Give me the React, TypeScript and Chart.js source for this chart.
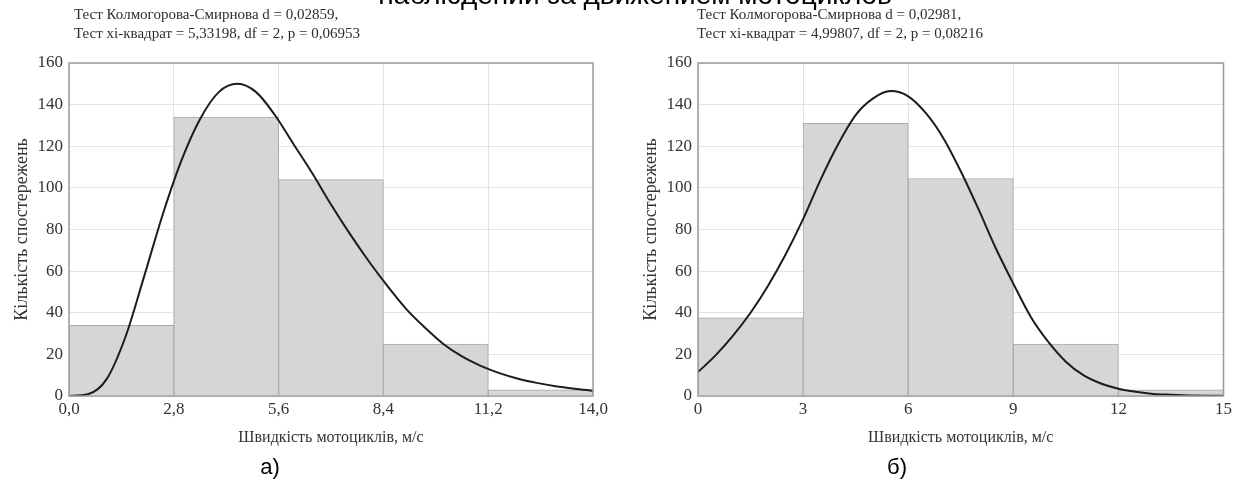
import React, { useEffect, useRef } from 'react';
import { Chart, registerables } from 'chart.js';

Chart.register(...registerables);

// ---------- shared text ----------
const PAGE_TITLE = 'наблюдений за движением мотоциклов';
const Y_TITLE = 'Кількість спостережень';
const X_TITLE = 'Швидкість мотоциклів, м/с';
const Y_MAX = 160;
const Y_STEP = 20;

// ---------- chart а) ----------
const edgesA = [0, 2.8, 5.6, 8.4, 11.2, 14.0];
const tickLabelsA = ['0,0', '2,8', '5,6', '8,4', '11,2', '14,0'];
const countsA = [34, 134, 104, 25, 3];
const curveXA = [0, 0.5, 1, 1.5, 2, 2.5, 3, 3.5, 4, 4.5, 5, 5.5, 6, 6.5, 7, 7.5, 8, 8.5, 9, 9.5, 10, 10.5, 11, 11.5, 12, 12.5, 13, 13.5, 14];
const curveYA = [0, 0.8, 8, 28, 57, 87, 113, 133, 146, 150, 146, 135, 121, 107, 92, 78, 65, 53, 42, 33, 25, 19, 14.5, 11, 8.3, 6.3, 4.7, 3.5, 2.5];
const statsA = ['Тест Колмогорова-Смирнова d = 0,02859,', 'Тест хі-квадрат = 5,33198, df = 2, p = 0,06953'];
const captionA = 'а)';

// ---------- chart б) ----------
const edgesB = [0, 3, 6, 9, 12, 15];
const tickLabelsB = ['0', '3', '6', '9', '12', '15'];
const countsB = [37.5, 131, 104.5, 25, 3];
const curveXB = [0, 0.5, 1, 1.5, 2, 2.5, 3, 3.5, 4, 4.5, 5, 5.5, 6, 6.5, 7, 7.5, 8, 8.5, 9, 9.5, 10, 10.5, 11, 11.5, 12, 12.5, 13, 13.5, 14, 14.5, 15];
const curveYB = [11.5, 19.5, 29, 40, 53, 68, 85, 104, 121, 135, 143, 146.5, 144, 136, 124, 108, 90, 71, 54, 38, 26, 16.5, 10, 6, 3.5, 2, 1, 0.6, 0.3, 0.15, 0.1];
const statsB = ['Тест Колмогорова-Смирнова d = 0,02981,', 'Тест хі-квадрат = 4,99807, df = 2, p = 0,08216'];
const captionB = 'б)';

const SERIF = '"Liberation Serif", "Times New Roman", serif';
const SANS = '"Liberation Sans", Arial, sans-serif';

const framePlugin = {
  id: 'frame',
  afterDatasetsDraw(chart: any) {
    const { ctx, chartArea } = chart;
    ctx.save();
    ctx.strokeStyle = '#9c9c9c';
    ctx.lineWidth = 1.5;
    ctx.strokeRect(chartArea.left, chartArea.top, chartArea.right - chartArea.left, chartArea.bottom - chartArea.top);
    ctx.restore();
  },
};

interface HistProps {
  edges: number[];
  tickLabels: string[];
  counts: number[];
  curveX: number[];
  curveY: number[];
  width: number;
  height: number;
  padLeft: number;
  padRight: number;
}

function Histogram(props: HistProps) {
  const ref = useRef<HTMLCanvasElement | null>(null);
  useEffect(() => {
    const { edges, tickLabels, counts, curveX, curveY, padLeft, padRight } = props;
    const bars = counts.map((c, i) => ({ x: (edges[i] + edges[i + 1]) / 2, y: c }));
    const line = curveX.map((x, i) => ({ x, y: curveY[i] }));
    const chart = new Chart(ref.current as HTMLCanvasElement, {
      type: 'bar',
      data: {
        datasets: [
          {
            type: 'line',
            data: line,
            borderColor: '#1c1c1c',
            borderWidth: 2,
            pointRadius: 0,
            fill: false,
            cubicInterpolationMode: 'monotone',
            order: 0,
          } as any,
          {
            type: 'bar',
            data: bars,
            backgroundColor: '#d6d6d6',
            borderColor: '#a9a9a9',
            borderWidth: 1,
            barPercentage: 1,
            categoryPercentage: 1,
            order: 1,
          } as any,
        ],
      },
      options: {
        responsive: false,
        animation: false,
        layout: { padding: { left: padLeft, right: padRight, top: 63, bottom: 30 } },
        plugins: { legend: { display: false }, tooltip: { enabled: false } },
        scales: {
          x: {
            type: 'linear',
            min: edges[0],
            max: edges[edges.length - 1],
            offset: false,
            afterBuildTicks: (s: any) => {
              s.ticks = edges.map((v) => ({ value: v }));
            },
            afterFit: (s: any) => {
              s.height = 60;
            },
            ticks: {
              autoSkip: false,
              maxRotation: 0,
              padding: 3,
              color: '#333',
              font: { family: SERIF, size: 17 },
              callback: (_v: any, i: number) => tickLabels[i],
            },
            grid: { color: '#e3e3e3', offset: false, drawTicks: false },
            border: { display: false },
            title: {
              display: true,
              text: X_TITLE,
              color: '#333',
              font: { family: SERIF, size: 16 },
              padding: { top: 0, bottom: 9 },
            },
          },
          y: {
            type: 'linear',
            min: 0,
            max: Y_MAX,
            afterFit: (s: any) => {
              s.width = 58;
            },
            ticks: {
              stepSize: Y_STEP,
              padding: 6,
              color: '#333',
              font: { family: SERIF, size: 17 },
            },
            grid: { color: '#e3e3e3', drawTicks: false },
            border: { display: false },
            title: {
              display: true,
              text: Y_TITLE,
              color: '#333',
              font: { family: SERIF, size: 18 },
              padding: { top: 0, bottom: 0 },
            },
          },
        },
      } as any,
      plugins: [framePlugin],
    });
    return () => chart.destroy();
  }, []);
  return <canvas ref={ref} width={props.width} height={props.height} style={{ display: 'block' }} />;
}

const statStyle: React.CSSProperties = {
  position: 'absolute',
  fontFamily: SERIF,
  fontSize: 15,
  lineHeight: '19px',
  color: '#2e2e2e',
  whiteSpace: 'nowrap',
};

const capStyle: React.CSSProperties = {
  position: 'absolute',
  fontFamily: SANS,
  fontSize: 22,
  lineHeight: '26px',
  color: '#000',
  width: 60,
  textAlign: 'center',
};

export default function App() {
  useEffect(() => {
    document.body.style.margin = '0';
  }, []);
  return (
    <div style={{ position: 'relative', width: 1235, height: 486, overflow: 'hidden', background: '#fff' }}>
      <div style={{ position: 'absolute', left: 0, top: 0 }}>
        <Histogram edges={edgesA} tickLabels={tickLabelsA} counts={countsA} curveX={curveXA} curveY={curveYA} width={615} height={486} padLeft={11} padRight={22} />
      </div>
      <div style={{ position: 'absolute', left: 615, top: 0 }}>
        <Histogram edges={edgesB} tickLabels={tickLabelsB} counts={countsB} curveX={curveXB} curveY={curveYB} width={620} height={486} padLeft={25} padRight={9} />
      </div>
      <div
        style={{
          position: 'absolute',
          right: 1235 - 892,
          top: -21,
          fontFamily: SANS,
          fontSize: 28,
          lineHeight: '32px',
          color: '#000',
          whiteSpace: 'nowrap',
        }}
      >
        {PAGE_TITLE}
      </div>
      <div style={{ ...statStyle, left: 74, top: 5 }}>
        {statsA[0]}
        <br />
        {statsA[1]}
      </div>
      <div style={{ ...statStyle, left: 697, top: 5 }}>
        {statsB[0]}
        <br />
        {statsB[1]}
      </div>
      <div style={{ ...capStyle, left: 270 - 30, top: 454 }}>{captionA}</div>
      <div style={{ ...capStyle, left: 897 - 30, top: 454 }}>{captionB}</div>
    </div>
  );
}
